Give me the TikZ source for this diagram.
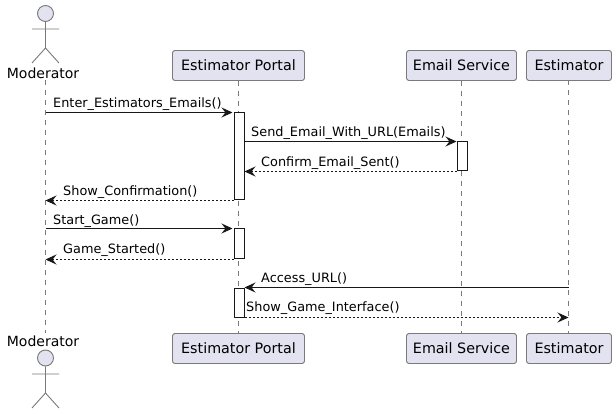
\documentclass[tikz,border=0pt]{standalone}
\usepackage{fontspec}
\setmainfont{DejaVu Sans}
\usetikzlibrary{arrows.meta}
\definecolor{partfill}{HTML}{E2E2F0}
\definecolor{ink}{HTML}{181818}
\definecolor{soft}{HTML}{7A7A7A}
\tikzset{
  part/.style={draw=soft,line width=.9pt,fill=partfill,rounded corners=2.5pt,minimum height=30pt,inner sep=0pt,font=\fontsize{14.3}{16}\selectfont,text=black},
  life/.style={draw=soft,line width=.9pt,dash pattern=on 5pt off 5pt},
  act/.style={draw=ink,line width=1pt,fill=white,minimum width=10pt,inner sep=0pt,anchor=north west},
  msg/.style={draw=ink,line width=1pt,-{Stealth[length=11pt,width=10pt,inset=4pt]}},
  ret/.style={msg,dash pattern=on 2pt off 2pt},
  lbl/.style={anchor=base west,inner sep=0pt,font=\fontsize{12.85}{15}\selectfont,text=black},
  actorname/.style={anchor=base,inner sep=0pt,font=\fontsize{14}{16}\selectfont,text=black},
  stick/.style={draw=soft,line width=.9pt},
  head/.style={draw=soft,line width=.9pt,fill=partfill,circle,minimum size=16pt,inner sep=0pt}
}
\begin{document}
\begin{tikzpicture}[x=1pt,y=-1pt]
\useasboundingbox (0,0) rectangle (616,414);
\fill[white] (0,0) rectangle (616,414);
% lifelines
\coordinate (mT) at (45.5,80); \coordinate (mB) at (45.5,333);
\draw[life] (mT) -- (mB);
\node[part,minimum width=132pt] (pT) at (238.5,65.5) {Estimator Portal};
\node[part,minimum width=132pt] (pB) at (238.5,348.5) {Estimator Portal};
\node[part,minimum width=110pt] (sT) at (461.5,65.5) {Email Service};
\node[part,minimum width=110pt] (sB) at (461.5,348.5) {Email Service};
\node[part,minimum width=85pt] (eT) at (569,65.5) {Estimator};
\node[part,minimum width=85pt] (eB) at (569,348.5) {Estimator};
\coordinate (eL) at (568.5,80.5);
\draw[life] (pT.south) -- (pB.north);
\draw[life] (sT.south) -- (sB.north);
\draw[life] (eL) -- (568.5,333.5);
% actors
\node[actorname] (mL1) at (43,78.5) {Moderator};
\node[actorname] (mL2) at (43,346) {Moderator};
\node[head] (h1) at (45.5,13.5) {};
\node[head] (h2) at (45.5,358) {};
\draw[stick] (h1.south) -- (45.5,48) (32,29) -- (59,29) (32,63) -- (45.5,48) -- (59,63);
\draw[stick] (h2.south) -- (45.5,393) (32,374) -- (59,374) (32,408) -- (45.5,393) -- (59,408);
% activations
\node[act,minimum height=87pt] (a1) at (233.5,112.5) {};
\node[act,minimum height=29pt] (a2) at (456.5,141.5) {};
\node[act,minimum height=30pt] (a3) at (233.5,228.5) {};
\node[act,minimum height=29pt] (a4) at (233.5,287.5) {};
% messages
\draw[msg] (mT |- a1.north) -- ([xshift=-1pt]a1.north west);
\draw[msg] (a1.east |- a2.north) -- (a2.north west);
\draw[ret] (a2.south west) -- (a1.east |- a2.south);
\draw[ret] (a1.south west) -- (mT |- a1.south);
\draw[msg] (mT |- a3.north) -- ([xshift=-1pt]a3.north west);
\draw[ret] (a3.south west) -- (mT |- a3.south);
\draw[msg] (eL |- a4.north) -- (a4.north east);
\draw[ret] (a4.south east) -- (eL |- a4.south);
% labels
\node[lbl] at (53,107.7) {Enter\_Estimators\_Emails()};
\node[lbl] at (251,136.5) {Send\_Email\_With\_URL(Emails)};
\node[lbl] at (261,166.7) {Confirm\_Email\_Sent()};
\node[lbl] at (63,195.7) {Show\_Confirmation()};
\node[lbl] at (53,224.7) {Start\_Game()};
\node[lbl] at (63,253.7) {Game\_Started()};
\node[lbl] at (261,282.7) {Access\_URL()};
\node[lbl] at (246,311.7) {Show\_Game\_Interface()};
\end{tikzpicture}
\end{document}
